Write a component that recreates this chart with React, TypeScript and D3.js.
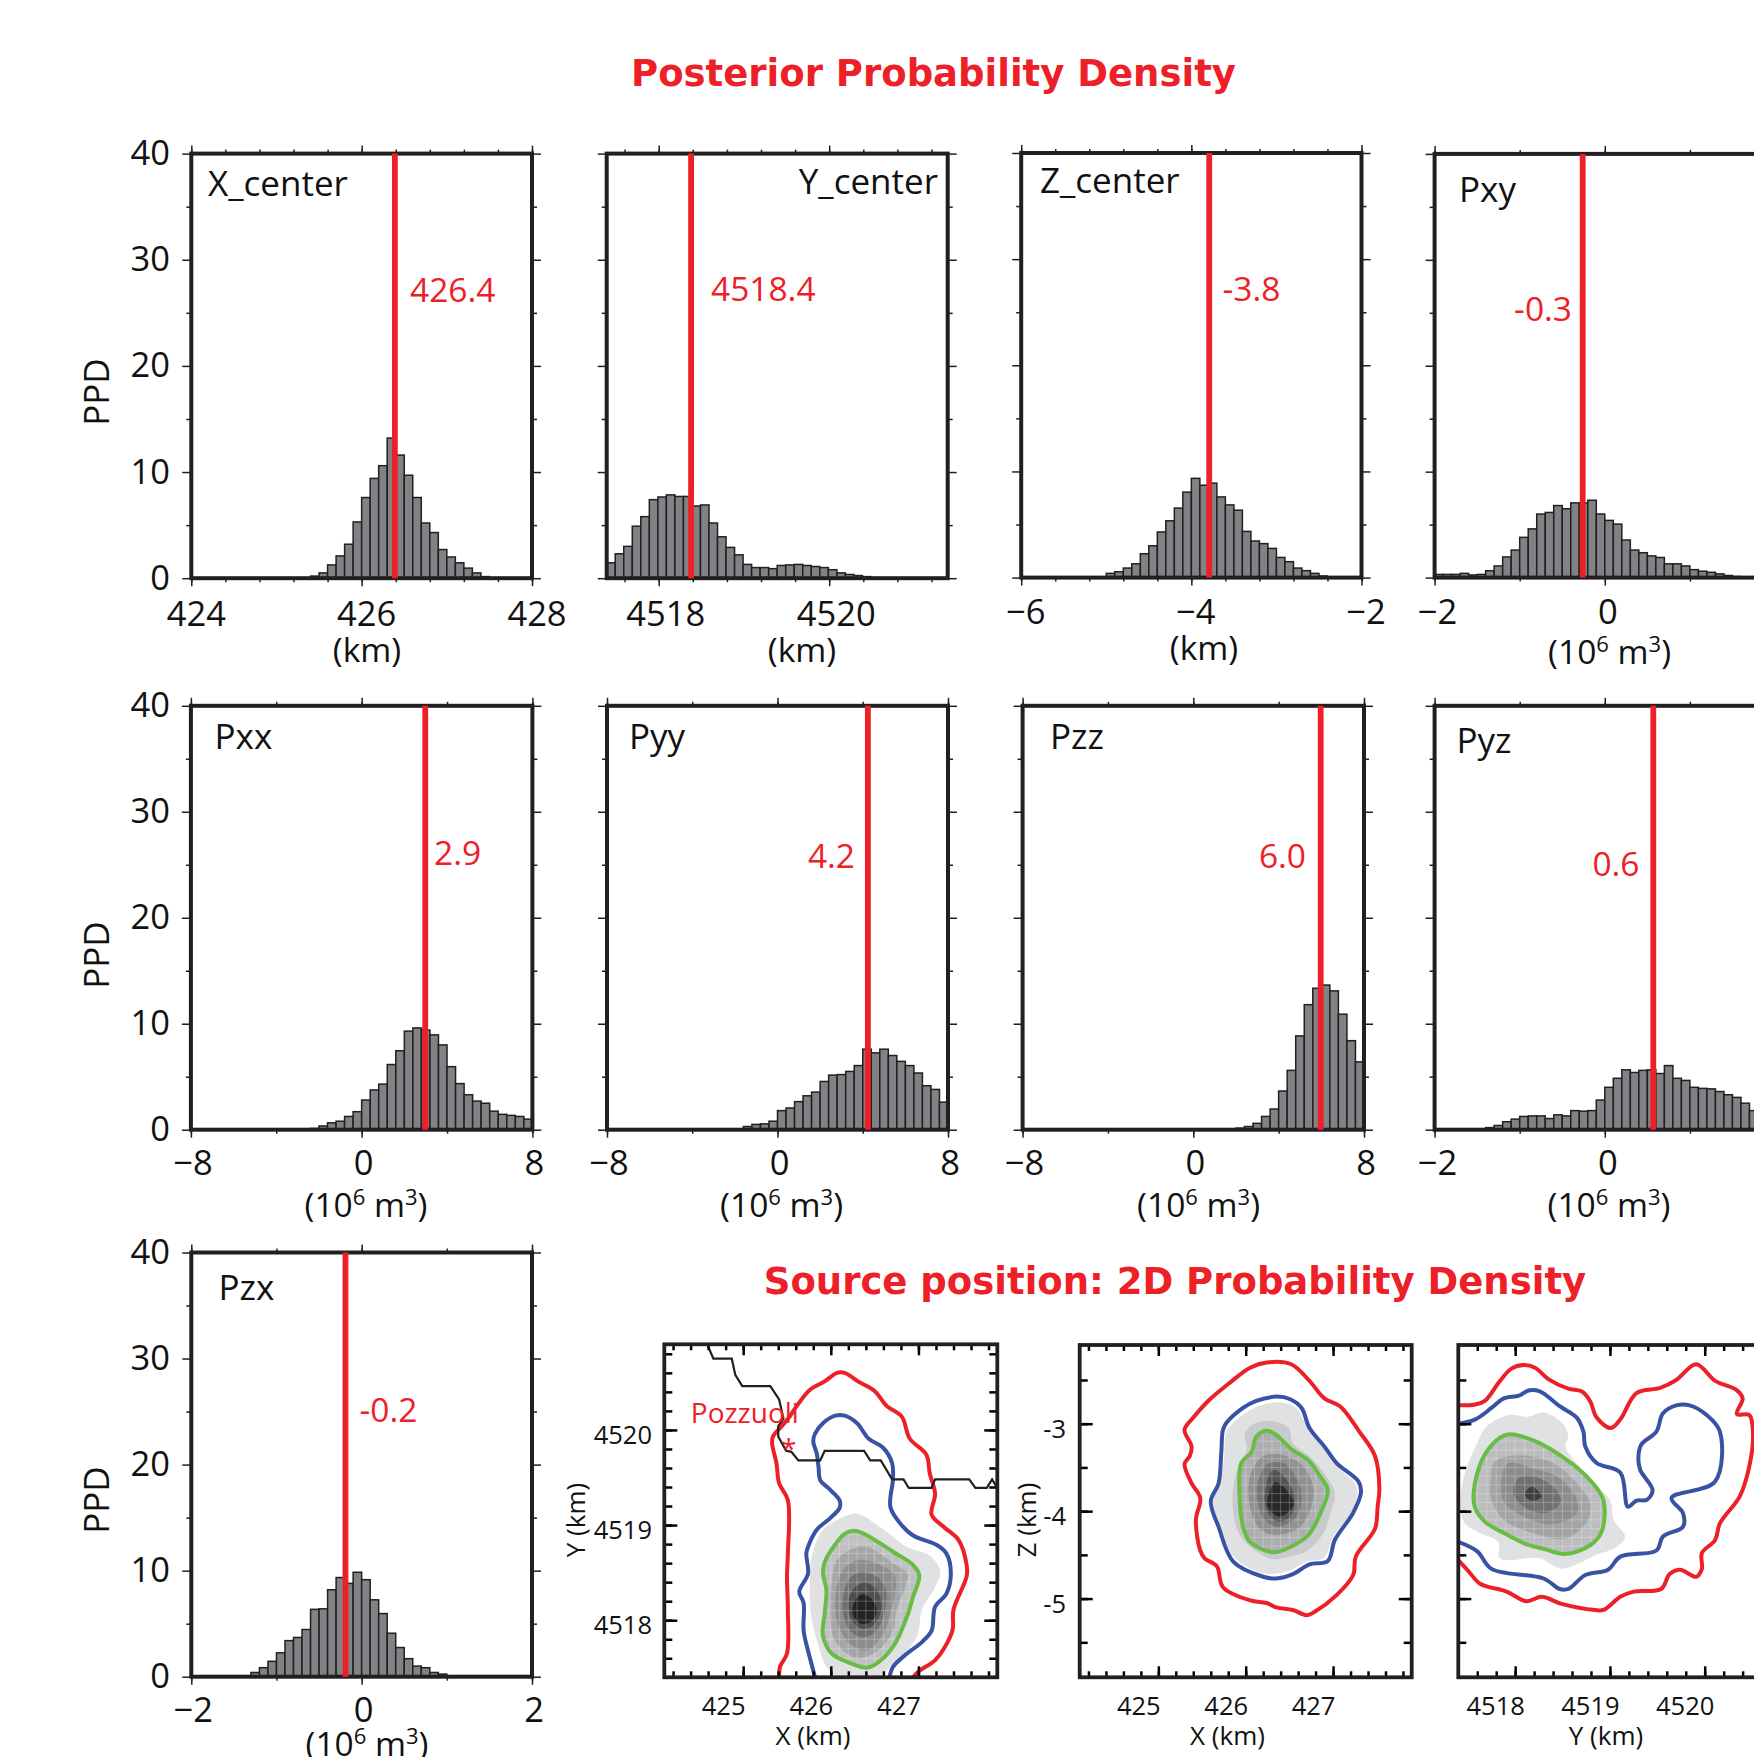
import React, { useEffect, useRef } from "react";
import * as d3 from "d3";

// PPD histograms, 40 bins per panel
const xCenterPPD = [0,0,0,0,0,0,0,0,0,0,0,0,0,.05,.2,.5,1.25,2.1,3.2,5.3,7.6,9.4,10.6,13.2,11.6,9.7,7.6,5.2,4.3,2.7,2.0,1.45,.95,.5,.15,.05,0,0,0,0];
const yCenterPPD = [1.45,2.3,3.0,4.9,5.8,7.4,7.65,7.85,7.7,7.7,6.8,6.9,5.2,3.9,2.9,2.2,1.3,1.0,1.0,.9,1.2,1.25,1.3,1.2,1.1,1.0,.8,.5,.35,.25,.15,.05,0,0,0,0,0,0,0,0];
const zCenterPPD = [0,0,0,0,0,0,0,0,0,.05,.4,.55,.9,1.3,2.25,3.0,4.3,5.35,6.55,8.05,9.35,8.7,8.9,7.6,6.85,6.35,4.35,3.45,3.2,2.75,1.9,1.5,.9,.65,.4,.15,.05,0,0,0];
const pxyPPD = [.3,.3,.3,.4,.25,.3,.65,1.1,1.95,2.6,3.8,4.6,6.0,6.15,6.8,6.5,7.05,7.05,7.3,6.0,5.4,5.05,3.55,2.6,2.35,2.05,1.9,1.3,1.3,1.1,.75,.6,.5,.35,.2,.1,.08,.05,.03,0];
const pxxPPD = [0,0,0,0,0,0,0,0,0,0,0,0,0,.03,.12,.35,.65,.8,1.25,1.7,2.8,3.75,4.3,6.15,7.45,9.3,9.6,9.4,8.95,8.0,5.95,4.35,3.3,2.7,2.5,1.75,1.45,1.35,1.25,1.0];
const pyyPPD = [0,0,0,0,0,0,0,0,0,0,0,0,0,0,0,0,.3,.5,.55,.8,1.8,2.05,2.65,3.2,3.55,4.55,5.15,5.2,5.5,6.05,7.6,7.25,7.6,7.0,6.45,6.05,5.35,4.15,3.8,2.6];
const pzzPPD = [0,0,0,0,0,0,0,0,0,0,0,0,0,0,0,0,0,0,0,0,0,0,0,0,0,.15,.3,.6,1.25,1.95,3.65,5.6,8.85,11.8,13.35,13.65,13.1,10.9,8.4,6.4];
const pyzPPD = [0,0,0,0,0,0,.2,.4,.75,1.0,1.25,1.3,1.3,1.05,1.4,1.3,1.8,1.75,1.8,2.8,4.0,4.85,5.65,5.4,5.6,5.65,5.3,6.05,4.85,4.65,4.0,3.9,3.85,3.6,3.3,3.05,2.5,1.8,1.5,1.2];
const pzxPPD = [0,0,0,0,0,0,0,.4,.85,1.45,2.25,3.4,3.7,4.45,6.35,6.4,8.2,9.35,8.8,9.85,9.15,7.25,5.95,4.1,2.75,1.7,1.0,.85,.4,.25,.03,0,0,0,0,0,0,0,0,0];

const histNames = ["X_center", "Y_center", "Z_center", "Pxy", "Pxx", "Pyy", "Pzz", "Pyz", "Pzx"];
const histValues = [xCenterPPD, yCenterPPD, zCenterPPD, pxyPPD, pxxPPD, pyyPPD, pzzPPD, pyzPPD, pzxPPD];
const histDomains = [[424, 428], [4517.39, 4521.39], [-6, -2], [-2, 2], [-8, 8], [-8, 8], [-8, 8], [-2, 2], [-2, 2]];
const histMajor = [[424, 426, 428], [4518, 4520], [-6, -4, -2], [-2, 0, 2], [-8, 0, 8], [-8, 0, 8], [-8, 0, 8], [-2, 0, 2], [-2, 0, 2]];
const histMinorStep = [0.4, 0.4, 0.4, 1, 4, 4, 4, 1, 1];
const bestValues = [426.39, 4518.38, -3.79, -0.26, 2.98, 4.24, 5.97, 0.57, -0.19];
const bestLabels = ["426.4", "4518.4", "-3.8", "-0.3", "2.9", "4.2", "6.0", "0.6", "-0.2"];
const ppdTicks = [0, 10, 20, 30, 40];
const ppdMinor = [5, 15, 25, 35];

// where each histogram sits on the page, and where its words go
const histLayout = [
  { l: 191.3, r: 532, t: 153.6, b: 578.2, nx: 208, ny: 195.5, na: "start", vx: 410, vy: 301.5, va: "start", tx: 5, ty: 47.5, ux: 367, uy: 662, unit: "km", ppd: 392 },
  { l: 606.7, r: 947.7, t: 153.6, b: 578.2, nx: 938, ny: 193.5, na: "end", vx: 711, vy: 301, va: "start", tx: 7, ty: 47.5, ux: 802, uy: 662, unit: "km" },
  { l: 1021.2, r: 1361.5, t: 153, b: 577.6, nx: 1040, ny: 193, na: "start", vx: 1222.5, vy: 301, va: "start", tx: 4.5, ty: 46.5, ux: 1204, uy: 660, unit: "km" },
  { l: 1434.6, r: 1775, t: 153.9, b: 577.6, nx: 1459, ny: 201.5, na: "start", vx: 1572, vy: 320.5, va: "end", tx: 3, ty: 46.5, ux: 1609.6, uy: 664, unit: "vol" },
  { l: 190.9, r: 532.4, t: 705.8, b: 1129.7, nx: 214.5, ny: 749, na: "start", vx: 434, vy: 864.5, va: "start", tx: 2, ty: 45, ux: 366, uy: 1217, unit: "vol", ppd: 955 },
  { l: 607, r: 948, t: 705.8, b: 1129.7, nx: 629, ny: 749, na: "start", vx: 855, vy: 867.5, va: "end", tx: 2, ty: 45, ux: 781.6, uy: 1217, unit: "vol" },
  { l: 1022.6, r: 1364, t: 705.8, b: 1129.7, nx: 1050, ny: 749, na: "start", vx: 1306, vy: 867.5, va: "end", tx: 2, ty: 45, ux: 1198.6, uy: 1217, unit: "vol" },
  { l: 1434.6, r: 1775, t: 705.8, b: 1129.7, nx: 1456.5, ny: 753, na: "start", vx: 1639.5, vy: 875.5, va: "end", tx: 3, ty: 45, ux: 1609, uy: 1217, unit: "vol" },
  { l: 191.3, r: 532, t: 1252.5, b: 1676.7, nx: 218.5, ny: 1300, na: "start", vx: 359.5, vy: 1421.5, va: "start", tx: 2, ty: 45, ux: 367, uy: 1756, unit: "vol", ppd: 1500 },
];

// X-Y density map
const xyRed = [[425.41,4517.40],[425.42,4517.51],[425.50,4517.65],[425.51,4518.11],[425.50,4518.46],[425.51,4518.70],[425.51,4519.26],[425.41,4519.44],[425.38,4519.65],[425.33,4519.86],[425.34,4519.93],[425.44,4520.04],[425.53,4520.14],[425.61,4520.25],[425.76,4520.42],[425.93,4520.51],[426.07,4520.60],[426.16,4520.60],[426.31,4520.51],[426.50,4520.41],[426.64,4520.25],[426.81,4520.14],[426.90,4519.91],[427.09,4519.74],[427.13,4519.54],[427.19,4519.33],[427.15,4519.11],[427.29,4518.98],[427.46,4518.84],[427.55,4518.58],[427.55,4518.46],[427.40,4518.11],[427.39,4517.90],[427.29,4517.70],[427.19,4517.58],[427.00,4517.46],[426.94,4517.40]];
const xyBlue = [[425.82,4517.40],[425.78,4517.54],[425.74,4517.68],[425.69,4517.89],[425.69,4518.18],[425.64,4518.30],[425.74,4518.49],[425.72,4518.70],[425.74,4518.77],[425.84,4518.95],[425.99,4519.07],[426.10,4519.18],[426.10,4519.26],[425.97,4519.39],[425.88,4519.47],[425.86,4519.61],[425.84,4519.75],[425.80,4519.88],[425.82,4519.96],[425.91,4520.07],[426.05,4520.15],[426.16,4520.15],[426.30,4520.07],[426.43,4519.91],[426.60,4519.81],[426.70,4519.65],[426.71,4519.49],[426.68,4519.19],[426.79,4519.02],[426.94,4518.89],[427.21,4518.79],[427.32,4518.70],[427.37,4518.49],[427.32,4518.28],[427.19,4518.14],[427.15,4517.89],[427.04,4517.77],[426.87,4517.65],[426.71,4517.51],[426.67,4517.40]];
const xyGreen = [[425.91,4518.49],[425.93,4518.61],[426.03,4518.77],[426.16,4518.91],[426.26,4518.94],[426.35,4518.92],[426.56,4518.81],[426.71,4518.72],[426.94,4518.58],[427.01,4518.47],[426.94,4518.25],[426.87,4518.04],[426.71,4517.72],[426.50,4517.53],[426.41,4517.50],[426.22,4517.55],[426.01,4517.65],[425.91,4517.84],[425.93,4518.07],[425.95,4518.32]];
const xyBands = [
  [[425.76,4518.35],[425.79,4518.70],[425.91,4518.95],[426.07,4519.05],[426.30,4519.12],[426.56,4518.98],[426.87,4518.77],[427.13,4518.68],[427.25,4518.51],[427.19,4518.35],[427.04,4518.11],[426.98,4517.82],[426.71,4517.54],[426.52,4517.40],[426.07,4517.40],[425.95,4517.51],[425.84,4517.79],[425.77,4518.07]],
  xyGreen,
  [[426.01,4518.42],[426.07,4518.63],[426.22,4518.74],[426.41,4518.77],[426.71,4518.60],[426.87,4518.49],[426.85,4518.35],[426.75,4518.11],[426.71,4517.89],[426.56,4517.70],[426.33,4517.60],[426.14,4517.68],[426.03,4517.82],[425.99,4518.11]],
  [[426.07,4518.35],[426.14,4518.53],[426.30,4518.63],[426.52,4518.60],[426.73,4518.47],[426.73,4518.28],[426.68,4518.07],[426.60,4517.86],[426.41,4517.68],[426.22,4517.75],[426.09,4517.93],[426.05,4518.14]],
  [[426.14,4518.25],[426.22,4518.44],[426.35,4518.51],[426.52,4518.46],[426.62,4518.35],[426.62,4518.11],[426.52,4517.89],[426.37,4517.82],[426.22,4517.89],[426.14,4518.07]],
  [[426.20,4518.21],[426.28,4518.35],[426.39,4518.40],[426.52,4518.32],[426.58,4518.14],[426.50,4517.96],[426.37,4517.91],[426.24,4518.00]],
  [[426.25,4518.14],[426.31,4518.25],[426.39,4518.27],[426.50,4518.18],[426.52,4518.07],[426.45,4517.98],[426.35,4517.96],[426.26,4518.04]],
];
const coastline = [[424.59,4520.90],[424.66,4520.75],[424.87,4520.75],[424.91,4520.58],[424.99,4520.46],[425.31,4520.46],[425.41,4520.32],[425.46,4520.12],[425.40,4520.04],[425.40,4519.93],[425.49,4519.78],[425.55,4519.77],[425.63,4519.68],[425.88,4519.68],[425.93,4519.78],[426.38,4519.78],[426.45,4519.68],[426.57,4519.68],[426.70,4519.48],[426.83,4519.48],[426.89,4519.39],[427.15,4519.39],[427.19,4519.48],[427.58,4519.48],[427.65,4519.39],[427.78,4519.39],[427.84,4519.48],[427.90,4519.39]];
const pozzuoli = [425.52, 4519.87];

// X-Z density map
const xzRed = [[425.30,-3.07],[425.38,-3.26],[425.36,-3.37],[425.30,-3.46],[425.38,-3.68],[425.48,-3.85],[425.43,-4.10],[425.48,-4.45],[425.53,-4.54],[425.67,-4.63],[425.74,-4.87],[426.05,-5.02],[426.24,-5.05],[426.35,-5.10],[426.54,-5.13],[426.70,-5.19],[426.79,-5.15],[427.04,-4.96],[427.23,-4.73],[427.26,-4.52],[427.48,-4.20],[427.51,-3.95],[427.53,-3.74],[427.48,-3.37],[427.30,-3.09],[427.08,-2.80],[426.90,-2.71],[426.73,-2.51],[426.52,-2.32],[426.24,-2.30],[426.05,-2.36],[425.82,-2.53],[425.57,-2.74],[425.40,-2.93]];
const xzBlue = [[425.74,-3.07],[425.72,-3.34],[425.69,-3.68],[425.60,-3.89],[425.69,-4.18],[425.86,-4.58],[426.20,-4.75],[426.35,-4.77],[426.54,-4.72],[426.73,-4.61],[426.94,-4.57],[427.02,-4.33],[427.23,-4.02],[427.32,-3.78],[427.29,-3.66],[427.04,-3.45],[426.90,-3.26],[426.73,-3.05],[426.64,-2.82],[426.51,-2.72],[426.35,-2.69],[426.12,-2.74],[425.97,-2.82],[425.78,-2.99]];
const xzGreen = [[425.95,-3.45],[425.93,-3.83],[425.97,-4.18],[426.05,-4.35],[426.31,-4.47],[426.51,-4.41],[426.72,-4.27],[426.87,-3.99],[426.94,-3.76],[426.85,-3.60],[426.73,-3.43],[426.51,-3.28],[426.35,-3.13],[426.24,-3.08],[426.12,-3.15],[426.07,-3.32]];
const xzBands = [
  [[425.78,-3.09],[425.75,-3.41],[425.71,-3.68],[425.63,-3.89],[425.72,-4.20],[425.88,-4.54],[426.20,-4.71],[426.47,-4.69],[426.70,-4.58],[426.90,-4.53],[427.00,-4.29],[427.23,-3.99],[427.27,-3.72],[427.04,-3.49],[426.90,-3.30],[426.70,-3.03],[426.58,-2.82],[426.43,-2.76],[426.20,-2.78],[425.99,-2.88],[425.84,-3.01]],
  [[425.99,-3.11],[426.12,-2.99],[426.31,-2.97],[426.49,-3.05],[426.54,-3.22],[426.73,-3.37],[426.90,-3.57],[427.02,-3.80],[426.98,-3.99],[426.89,-4.25],[426.71,-4.45],[426.51,-4.52],[426.31,-4.55],[426.12,-4.46],[425.93,-4.27],[425.85,-3.91],[425.90,-3.53],[426.01,-3.30]],
  xzGreen,
  [[426.05,-3.60],[426.20,-3.37],[426.43,-3.36],[426.66,-3.49],[426.77,-3.72],[426.75,-3.95],[426.62,-4.18],[426.35,-4.27],[426.16,-4.20],[426.05,-3.95]],
  [[426.14,-3.68],[426.24,-3.47],[426.43,-3.45],[426.58,-3.62],[426.64,-3.83],[426.58,-4.06],[426.37,-4.18],[426.22,-4.10],[426.14,-3.91]],
  [[426.22,-3.80],[426.31,-3.53],[426.47,-3.64],[426.56,-3.87],[426.51,-4.06],[426.37,-4.12],[426.24,-3.99]],
  [[426.25,-3.87],[426.34,-3.67],[426.52,-3.83],[426.54,-3.95],[426.39,-4.06],[426.26,-3.97]],
];

// Y-Z density map
const yzRed = [[4517.40,-2.79],[4517.58,-2.78],[4517.68,-2.74],[4517.84,-2.51],[4517.96,-2.37],[4518.09,-2.33],[4518.21,-2.36],[4518.35,-2.49],[4518.56,-2.60],[4518.70,-2.63],[4518.79,-2.74],[4518.86,-2.93],[4519.01,-3.05],[4519.11,-2.95],[4519.28,-2.65],[4519.53,-2.59],[4519.70,-2.50],[4519.91,-2.32],[4520.11,-2.51],[4520.33,-2.61],[4520.40,-2.71],[4520.34,-2.89],[4520.47,-2.90],[4520.51,-3.11],[4520.47,-3.49],[4520.37,-3.83],[4520.16,-4.14],[4520.11,-4.33],[4519.97,-4.48],[4519.97,-4.66],[4519.91,-4.75],[4519.74,-4.67],[4519.63,-4.72],[4519.54,-4.89],[4519.25,-4.92],[4519.11,-4.98],[4518.93,-5.13],[4518.84,-5.13],[4518.49,-5.06],[4518.28,-4.98],[4518.12,-5.03],[4517.91,-4.92],[4517.63,-4.83],[4517.51,-4.69],[4517.40,-4.56]];
const yzBlue = [[4517.40,-3.00],[4517.58,-2.95],[4517.75,-2.82],[4517.88,-2.71],[4518.04,-2.68],[4518.14,-2.62],[4518.26,-2.63],[4518.47,-2.80],[4518.65,-2.93],[4518.72,-3.09],[4518.74,-3.26],[4518.86,-3.45],[4519.11,-3.56],[4519.19,-3.95],[4519.28,-3.88],[4519.39,-3.87],[4519.45,-3.76],[4519.32,-3.53],[4519.30,-3.39],[4519.33,-3.24],[4519.49,-3.09],[4519.56,-2.88],[4519.70,-2.79],[4519.84,-2.79],[4520.02,-2.90],[4520.16,-3.09],[4520.11,-3.66],[4519.65,-3.85],[4519.77,-4.02],[4519.77,-4.18],[4519.56,-4.29],[4519.49,-4.45],[4519.11,-4.52],[4518.98,-4.67],[4518.74,-4.73],[4518.56,-4.89],[4518.47,-4.89],[4518.30,-4.77],[4517.75,-4.66],[4517.60,-4.46],[4517.40,-4.35]];
const yzGreen = [[4517.56,-3.85],[4517.61,-3.53],[4517.70,-3.32],[4517.84,-3.16],[4517.94,-3.12],[4518.21,-3.20],[4518.54,-3.41],[4518.75,-3.60],[4518.93,-3.87],[4518.91,-4.24],[4518.79,-4.39],[4518.53,-4.49],[4518.30,-4.43],[4518.12,-4.38],[4517.88,-4.25],[4517.68,-4.12],[4517.58,-3.97]];
const yzBands = [
  [[4517.42,-3.95],[4517.46,-3.60],[4517.60,-3.22],[4517.70,-3.03],[4517.93,-2.90],[4518.14,-2.92],[4518.30,-2.87],[4518.51,-3.01],[4518.56,-3.15],[4518.53,-3.26],[4518.68,-3.49],[4518.82,-3.68],[4519.00,-3.87],[4519.04,-4.10],[4519.16,-4.29],[4519.07,-4.41],[4518.86,-4.50],[4518.49,-4.66],[4518.26,-4.54],[4517.84,-4.54],[4517.82,-4.35],[4517.63,-4.25],[4517.47,-4.14]],
  yzGreen,
  [[4517.74,-3.64],[4517.79,-3.43],[4518.05,-3.36],[4518.40,-3.45],[4518.65,-3.68],[4518.79,-3.91],[4518.77,-4.10],[4518.54,-4.31],[4518.16,-4.24],[4517.88,-4.10],[4517.75,-3.87]],
  [[4517.86,-3.60],[4517.93,-3.45],[4518.19,-3.51],[4518.47,-3.62],[4518.65,-3.87],[4518.65,-4.02],[4518.40,-4.15],[4518.09,-4.06],[4517.88,-3.89]],
  [[4517.98,-3.76],[4518.04,-3.62],[4518.19,-3.60],[4518.40,-3.72],[4518.48,-3.89],[4518.33,-4.02],[4518.12,-3.97],[4518.00,-3.85]],
  [[4518.11,-3.78],[4518.18,-3.72],[4518.28,-3.83],[4518.21,-3.88],[4518.12,-3.85]],
];

const INK = "#231f20";
const RED = "#ed2027";
const BLUE = "#3953a4";
const GREEN = "#69bd45";
const TEXT_FONT = "'Open Sans', sans-serif";
const xyShades = ["#e0e1e2", "#bfc0c2", "#a5a6a8", "#8c8d8f", "#6f7072", "#4d4e50", "#232324"];
const xzShades = ["#e0e1e2", "#c9cacc", "#adaeb0", "#909193", "#757678", "#525355", "#28282a"];
const yzShades = ["#e0e1e2", "#bcbdbf", "#a3a4a6", "#8c8d8f", "#6f7072", "#3f4042"];

const cleanAxis = (g: any) => {
  g.select(".domain").remove();
  g.selectAll("line").attr("stroke", INK);
};

const writeUnit = (svg: any, unit: string, x: number, y: number) => {
  const t = svg.append("text").attr("x", x).attr("y", y).attr("text-anchor", "middle")
    .attr("font-family", TEXT_FONT).attr("font-size", 33.5).attr("fill", "#111");
  if (unit === "km") { t.text("(km)"); return; }
  t.append("tspan").text("(10");
  t.append("tspan").attr("dy", -12).attr("font-size", 22).text("6");
  t.append("tspan").attr("dy", 12).text(" m");
  t.append("tspan").attr("dy", -12).attr("font-size", 22).text("3");
  t.append("tspan").attr("dy", 12).text(")");
};

const drawHistogram = (svg: any, i: number) => {
  const lay = histLayout[i];
  const values = histValues[i];
  const [d0, d1] = histDomains[i];
  const x = d3.scaleLinear().domain([d0, d1]).range([lay.l, lay.r]);
  const y = d3.scaleLinear().domain([0, 40]).range([lay.b, lay.t]);
  const bin = (d1 - d0) / values.length;
  const minorX = d3.range(Math.ceil(d0 / histMinorStep[i]) * histMinorStep[i], d1 + 1e-6, histMinorStep[i]);

  svg.append("g").selectAll("rect").data(values.map((v, k) => ({ v, k })).filter((d) => d.v > 0)).join("rect")
    .attr("x", (d: any) => x(d0 + d.k * bin))
    .attr("width", (d: any) => x(d0 + bin) - x(d0))
    .attr("y", (d: any) => y(d.v))
    .attr("height", (d: any) => y(0) - y(d.v))
    .attr("fill", "#808285").attr("stroke", INK).attr("stroke-width", 1.5);

  // ticks stick out on all four sides
  const axes = [
    [d3.axisBottom(x).tickValues(minorX).tickSize(4), lay.b, "x"],
    [d3.axisTop(x).tickValues(minorX).tickSize(4), lay.t, "x"],
    [d3.axisBottom(x).tickValues(histMajor[i]).tickSize(8), lay.b, "x"],
    [d3.axisTop(x).tickValues(histMajor[i]).tickSize(8), lay.t, "x"],
    [d3.axisLeft(y).tickValues(ppdMinor).tickSize(5), lay.l, "y"],
    [d3.axisRight(y).tickValues(ppdMinor).tickSize(5), lay.r, "y"],
    [d3.axisLeft(y).tickValues(ppdTicks).tickSize(9), lay.l, "y"],
    [d3.axisRight(y).tickValues(ppdTicks).tickSize(9), lay.r, "y"],
  ];
  axes.forEach(([axis, pos, dir]: any) => {
    const g = svg.append("g").attr("transform", dir === "x" ? `translate(0,${pos})` : `translate(${pos},0)`)
      .call(axis.tickFormat(() => ""));
    cleanAxis(g);
    g.selectAll("line").attr("stroke-width", 1.5);
  });

  // tick labels on the bottom axis
  svg.append("g").selectAll("text").data(histMajor[i]).join("text")
    .attr("x", (d: number) => x(d) + lay.tx)
    .attr("y", lay.b + lay.ty)
    .attr("text-anchor", "middle").attr("font-family", TEXT_FONT).attr("font-size", 34.5).attr("fill", "#111")
    .text((d: number) => `${d < 0 ? "\u2212" : ""}${Math.abs(d)}`);

  writeUnit(svg, lay.unit, lay.ux, lay.uy);

  if (lay.ppd) {
    svg.append("g").selectAll("text").data(ppdTicks).join("text")
      .attr("x", 170).attr("y", (d: number) => y(d) + 11.5).attr("text-anchor", "end")
      .attr("font-family", TEXT_FONT).attr("font-size", 34.5).attr("fill", "#111").text((d: number) => d);
    svg.append("text").attr("transform", `translate(109,${lay.ppd}) rotate(-90)`).attr("text-anchor", "middle")
      .attr("font-family", TEXT_FONT).attr("font-size", 35).attr("fill", "#111").text("PPD");
  }

  svg.append("rect").attr("x", lay.l).attr("y", lay.t).attr("width", lay.r - lay.l).attr("height", lay.b - lay.t)
    .attr("fill", "none").attr("stroke", INK).attr("stroke-width", 4);

  svg.append("line").attr("x1", x(bestValues[i])).attr("x2", x(bestValues[i])).attr("y1", lay.t).attr("y2", lay.b)
    .attr("stroke", RED).attr("stroke-width", 5.8);

  svg.append("text").attr("x", lay.nx).attr("y", lay.ny).attr("text-anchor", lay.na)
    .attr("font-family", TEXT_FONT).attr("font-size", 35).attr("fill", "#111").text(histNames[i]);
  svg.append("text").attr("x", lay.vx).attr("y", lay.vy).attr("text-anchor", lay.va)
    .attr("font-family", TEXT_FONT).attr("font-size", 33.5).attr("fill", RED).text(bestLabels[i]);
};

const drawMap = (svg: any, opt: any) => {
  const x = d3.scaleLinear().domain(opt.xDomain).range([opt.l, opt.r]);
  const y = d3.scaleLinear().domain(opt.yDomain).range([opt.b, opt.t]);
  const closed = d3.line().x((d: any) => x(d[0])).y((d: any) => y(d[1])).curve(d3.curveCatmullRomClosed.alpha(0.5));
  const open = d3.line().x((d: any) => x(d[0])).y((d: any) => y(d[1])).curve(d3.curveCatmullRom.alpha(0.5));
  const straight = d3.line().x((d: any) => x(d[0])).y((d: any) => y(d[1]));

  const clipId = `clip-${opt.id}`;
  const meshId = `mesh-${opt.id}`;
  svg.append("clipPath").attr("id", clipId).append("rect")
    .attr("x", opt.l).attr("y", opt.t).attr("width", opt.r - opt.l).attr("height", opt.b - opt.t);
  svg.append("clipPath").attr("id", meshId).append("path").attr("d", closed(opt.bands[opt.meshBand]));

  const plot = svg.append("g").attr("clip-path", `url(#${clipId})`);
  plot.selectAll("path.band").data(opt.bands).join("path").attr("class", "band")
    .attr("d", (d: any) => closed(d)).attr("fill", (_: any, k: number) => opt.shades[k]);

  // faint cell grid of the gridded density
  const mesh = plot.append("g").attr("clip-path", `url(#${meshId})`).attr("stroke", "#fff").attr("stroke-opacity", 0.25).attr("stroke-width", 1);
  mesh.selectAll("line.v").data(d3.range(opt.xDomain[0], opt.xDomain[1], 0.1)).join("line").attr("class", "v")
    .attr("x1", (d: number) => x(d)).attr("x2", (d: number) => x(d)).attr("y1", opt.t).attr("y2", opt.b);
  mesh.selectAll("line.h").data(d3.range(opt.yDomain[0], opt.yDomain[1], 0.1)).join("line").attr("class", "h")
    .attr("y1", (d: number) => y(d)).attr("y2", (d: number) => y(d)).attr("x1", opt.l).attr("x2", opt.r);

  const contour = (pts: any, color: string, isClosed: boolean) => plot.append("path")
    .attr("d", (isClosed ? closed : open)(pts)).attr("fill", "none").attr("stroke", color)
    .attr("stroke-width", 4).attr("stroke-linejoin", "round");
  contour(opt.red, RED, opt.closed);
  contour(opt.blue, BLUE, opt.closed);
  contour(opt.green, GREEN, true);

  if (opt.coast) {
    plot.append("path").attr("d", straight(opt.coast)).attr("fill", "none").attr("stroke", INK).attr("stroke-width", 2.2);
    plot.append("text").attr("x", x(pozzuoli[0])).attr("y", y(pozzuoli[1]) + 17).attr("text-anchor", "middle")
      .attr("font-family", TEXT_FONT).attr("font-size", 28).attr("fill", RED).text("*");
    plot.append("text").attr("x", opt.l + 26.5).attr("y", 1422.5)
      .attr("font-family", TEXT_FONT).attr("font-size", 28).attr("fill", RED).text("Pozzuoli");
  }

  const axes = [
    [d3.axisBottom(x).tickValues(opt.xMinor).tickSize(-6), opt.b, "x", 2.5],
    [d3.axisTop(x).tickValues(opt.xMinor).tickSize(-6), opt.t, "x", 2.5],
    [d3.axisBottom(x).tickValues(opt.xMajor).tickSize(-11), opt.b, "x", 2.5],
    [d3.axisTop(x).tickValues(opt.xMajor).tickSize(-11), opt.t, "x", 2.5],
    [d3.axisLeft(y).tickValues(opt.yMinor).tickSize(-8), opt.l, "y", 2.5],
    [d3.axisRight(y).tickValues(opt.yMinor).tickSize(-8), opt.r, "y", 2.5],
    [d3.axisLeft(y).tickValues(opt.yMajor).tickSize(-13), opt.l, "y", 2.5],
    [d3.axisRight(y).tickValues(opt.yMajor).tickSize(-13), opt.r, "y", 2.5],
  ];
  axes.forEach(([axis, pos, dir, w]: any) => {
    const g = svg.append("g").attr("transform", dir === "x" ? `translate(0,${pos})` : `translate(${pos},0)`)
      .call(axis.tickFormat(() => ""));
    cleanAxis(g);
    g.selectAll("line").attr("stroke-width", w).attr("stroke", "#000");
  });

  svg.append("rect").attr("x", opt.l).attr("y", opt.t).attr("width", opt.r - opt.l).attr("height", opt.b - opt.t)
    .attr("fill", "none").attr("stroke", INK).attr("stroke-width", 3.8);

  svg.append("g").selectAll("text").data(opt.xMajor).join("text")
    .attr("x", (d: number) => x(d) - 19.5).attr("y", 1715).attr("text-anchor", "middle")
    .attr("font-family", TEXT_FONT).attr("font-size", 25.5).attr("fill", "#111").text((d: number) => d);
  svg.append("text").attr("x", opt.xLabelX).attr("y", 1745).attr("text-anchor", "middle")
    .attr("font-family", TEXT_FONT).attr("font-size", 26).attr("fill", "#111").text(opt.xLabel);

  if (opt.yTickEnd) {
    svg.append("g").selectAll("text").data(opt.yMajor).join("text")
      .attr("x", opt.yTickEnd).attr("y", (d: number) => y(d) + 14).attr("text-anchor", "end")
      .attr("font-family", TEXT_FONT).attr("font-size", 25.5).attr("fill", "#111").text((d: number) => d);
    svg.append("text").attr("transform", `translate(${opt.yLabelX},1520) rotate(-90)`).attr("text-anchor", "middle")
      .attr("font-family", TEXT_FONT).attr("font-size", 26).attr("fill", "#111").text(opt.yLabel);
  }
};

const App = () => {
  const svgRef = useRef<SVGSVGElement>(null);

  useEffect(() => {
    const svg = d3.select(svgRef.current);
    svg.selectAll("*").remove();

    svg.append("text").attr("x", 933.5).attr("y", 86).attr("text-anchor", "middle")
      .attr("font-family", "'DejaVu Sans', sans-serif").attr("font-weight", "bold").attr("font-size", 37).attr("fill", RED)
      .text("Posterior Probability Density");
    svg.append("text").attr("x", 1175).attr("y", 1294).attr("text-anchor", "middle")
      .attr("font-family", "'DejaVu Sans', sans-serif").attr("font-weight", "bold").attr("font-size", 37).attr("fill", RED)
      .text("Source position: 2D Probability Density");

    histValues.forEach((_, i) => drawHistogram(svg, i));

    const xFine = d3.range(424.2, 427.95, 0.2);
    const yFine = d3.range(4517.6, 4520.95, 0.2);
    drawMap(svg, {
      id: "xy", l: 664.3, r: 997.3, t: 1344.3, b: 1677.3,
      xDomain: [424.1, 427.9], yDomain: [4517.4, 4520.9],
      xMajor: [425, 426, 427], yMajor: [4518, 4519, 4520], xMinor: xFine, yMinor: yFine,
      bands: xyBands, shades: xyShades, meshBand: 1,
      red: xyRed, blue: xyBlue, green: xyGreen, closed: false, coast: coastline,
      xLabel: "X (km)", xLabelX: 813, yLabel: "Y (km)", yLabelX: 585, yTickEnd: 652,
    });
    const yFineZ = d3.range(-5.5, -2.1, 0.5);
    drawMap(svg, {
      id: "xz", l: 1079.7, r: 1411.7, t: 1345, b: 1677.3,
      xDomain: [424.1, 427.9], yDomain: [-5.9, -2.1],
      xMajor: [425, 426, 427], yMajor: [-3, -4, -5], xMinor: xFine, yMinor: yFineZ,
      bands: xzBands, shades: xzShades, meshBand: 2,
      red: xzRed, blue: xzBlue, green: xzGreen, closed: true,
      xLabel: "X (km)", xLabelX: 1227.5, yLabel: "Z (km)", yLabelX: 1036, yTickEnd: 1066,
    });
    drawMap(svg, {
      id: "yz", l: 1458.3, r: 1790, t: 1345, b: 1677.3,
      xDomain: [4517.4, 4520.9], yDomain: [-5.9, -2.1],
      xMajor: [4518, 4519, 4520], yMajor: [-3, -4, -5], xMinor: d3.range(4517.6, 4520.95, 0.2), yMinor: yFineZ,
      bands: yzBands, shades: yzShades, meshBand: 1,
      red: yzRed, blue: yzBlue, green: yzGreen, closed: false,
      xLabel: "Y (km)", xLabelX: 1606,
    });
  }, []);

  return (
    <svg ref={svgRef} width={1754} height={1757} style={{ position: "absolute", left: 0, top: 0, background: "#fff" }} />
  );
};

export default App;
